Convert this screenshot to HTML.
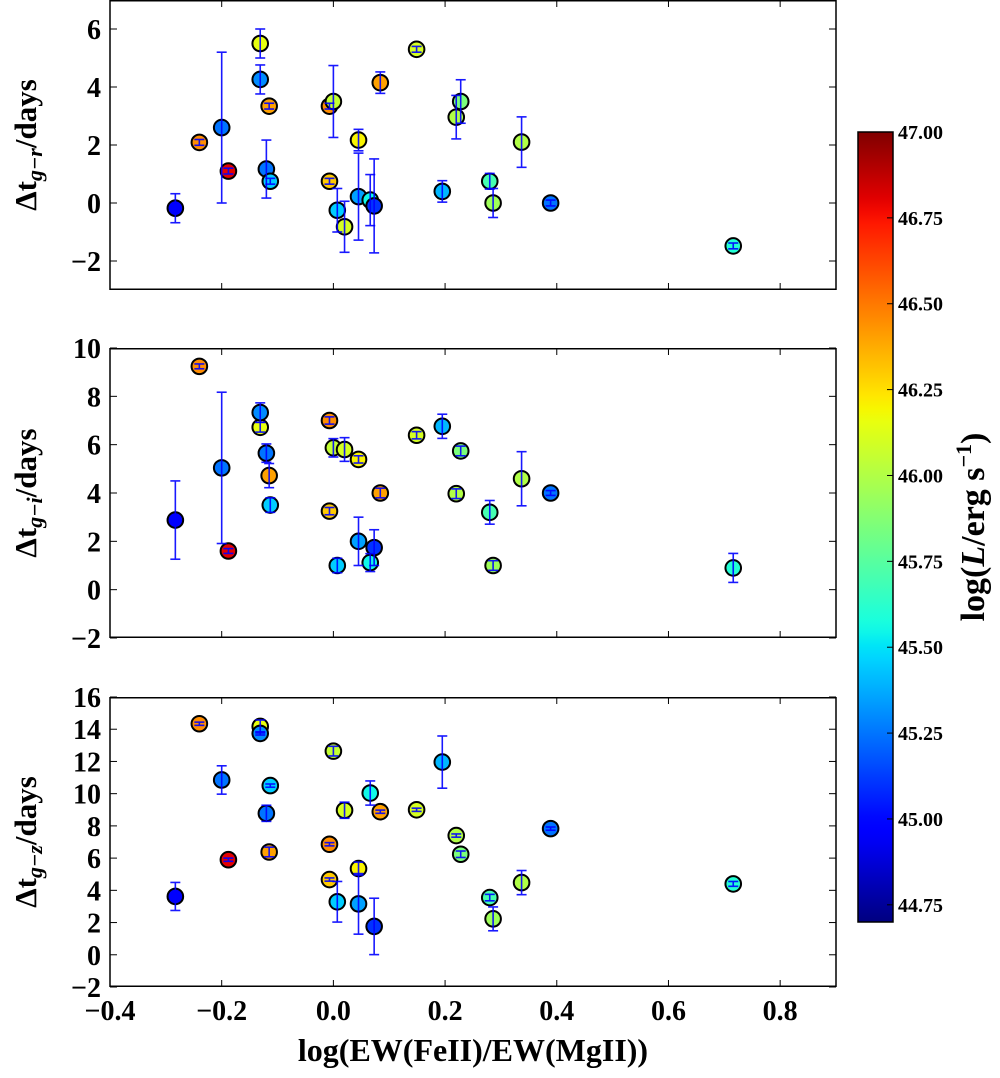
<!DOCTYPE html>
<html><head><meta charset="utf-8"><style>
html,body{margin:0;padding:0;background:#fff;}
svg text{font-family:"Liberation Serif","DejaVu Serif",serif;font-weight:bold;}
</style></head><body>
<svg id="fig" width="1000" height="1073" viewBox="0 0 1000 1073" xmlns="http://www.w3.org/2000/svg">
<defs><linearGradient id="jetgrad" x1="0" y1="1" x2="0" y2="0"></linearGradient></defs>
<g id="panels"></g>
<g id="cbar"></g>
</svg>
<script>
const xVals=[-0.283,-0.24,-0.2,-0.188,-0.131,-0.131,-0.115,-0.12,-0.113,-0.007,0.0,-0.007,0.007,0.02,0.045,0.045,0.066,0.073,0.084,0.149,0.195,0.22,0.228,0.28,0.286,0.337,0.389,0.716];
const lumVals=[44.95,46.45,45.25,46.8,46.15,45.3,46.4,45.25,45.45,46.45,46.05,46.3,45.45,46.1,46.2,45.35,45.55,45.1,46.4,46.1,45.4,46.0,45.85,45.7,45.95,46.0,45.25,45.6];
const grVals=[-0.18,2.09,2.6,1.1,5.5,4.26,3.34,1.17,0.75,3.34,3.5,0.75,-0.25,-0.82,2.17,0.22,0.1,-0.1,4.15,5.3,0.4,2.96,3.5,0.75,0.0,2.1,0.0,-1.48];
const grErr=[0.5,0.1,2.6,0.1,0.5,0.5,0.1,1.0,0.1,0.1,1.24,0.1,0.75,0.88,0.37,1.5,0.88,1.62,0.37,0.1,0.37,0.75,0.75,0.27,0.5,0.87,0.1,0.1];
const giVals=[2.88,9.24,5.04,1.6,6.72,7.33,4.72,5.65,3.5,7.0,5.87,3.25,1.0,5.8,5.39,2.0,1.12,1.74,4.0,6.39,6.76,3.97,5.74,3.2,1.0,4.59,4.0,0.9];
const giErr=[1.62,0.1,3.13,0.1,0.2,0.4,0.5,0.38,0.3,0.15,0.38,0.15,0.3,0.49,0.15,1.0,0.37,0.74,0.2,0.15,0.5,0.2,0.2,0.49,0.2,1.12,0.1,0.6];
const gzVals=[3.62,14.34,10.85,5.9,14.17,13.74,6.38,8.78,10.5,6.86,12.64,4.67,3.29,8.97,5.35,3.16,10.04,1.76,8.88,9.0,11.96,7.4,6.24,3.55,2.23,4.48,7.83,4.4];
const gzErr=[0.87,0.1,0.88,0.1,0.4,0.1,0.3,0.5,0.1,0.1,0.3,0.1,1.26,0.5,0.4,1.88,0.75,1.75,0.1,0.1,1.62,0.1,0.2,0.2,0.74,0.75,0.1,0.15];
const xTicks=[-0.4,-0.2,0.0,0.2,0.4,0.6,0.8];
const xTickLabels=["\u22120.4","\u22120.2","0.0","0.2","0.4","0.6","0.8"];
const yTicks1=[-2,0,2,4,6];
const yTicks2=[-2,0,2,4,6,8,10];
const yTicks3=[-2,0,2,4,6,8,10,12,14,16];
const cbTicks=[44.75,45.0,45.25,45.5,45.75,46.0,46.25,46.5,46.75,47.0];

const NS="http://www.w3.org/2000/svg";
function mk(tag,attrs,parent){const e=document.createElementNS(NS,tag);for(const k in attrs)e.setAttribute(k,attrs[k]);if(parent)parent.appendChild(e);return e;}
function seg(s,t){for(let i=1;i<s.length;i++){if(t<=s[i][0]){const a=s[i-1],b=s[i];return a[1]+(b[1]-a[1])*(t-a[0])/(b[0]-a[0]);}}return s[s.length-1][1];}
const JR=[[0,0],[0.35,0],[0.66,1],[0.89,1],[1,0.5]];
const JG=[[0,0],[0.125,0],[0.375,1],[0.64,1],[0.91,0],[1,0]];
const JB=[[0,0.5],[0.11,1],[0.34,1],[0.65,0],[1,0]];
function jet(t){t=Math.max(0,Math.min(1,t));
 return `rgb(${Math.round(seg(JR,t)*255)},${Math.round(seg(JG,t)*255)},${Math.round(seg(JB,t)*255)})`;}
const cMin=44.7,cMax=47.0;
function cnorm(v){return (v-cMin)/(cMax-cMin);}

const L=110,R=836,xMin=-0.4,xMax=0.9;
function xs(v){return L+(v-xMin)/(xMax-xMin)*(R-L);}
const panels=[
 {top:0,bot:290,ymin:-3,ymax:7,vals:grVals,err:grErr,ticks:yTicks1,sub:"g\u2212r",name:"panel-g-r"},
 {top:348,bot:638,ymin:-2,ymax:10,vals:giVals,err:giErr,ticks:yTicks2,sub:"g\u2212i",name:"panel-g-i"},
 {top:697,bot:987,ymin:-2,ymax:16,vals:gzVals,err:gzErr,ticks:yTicks3,sub:"g\u2212z",name:"panel-g-z"}];
const root=document.getElementById('panels');
panels.forEach((p,pi)=>{
 const g=mk('g',{},root);
 
 
 const ys=v=>p.bot-(v-p.ymin)/(p.ymax-p.ymin)*(p.bot-p.top);
 xTicks.forEach((t,i)=>{const x=xs(t);
  const a=mk('line',{x1:x,x2:x,y1:p.bot,y2:p.bot-7,stroke:'#000','stroke-width':1},g);
  
  
  mk('line',{x1:x,x2:x,y1:p.top,y2:p.top+7,stroke:'#000','stroke-width':1},g);
  if(pi===2){const tx=mk('text',{x:x,y:1020,'text-anchor':'middle','font-size':28},g);tx.textContent=xTickLabels[i];
   
   }
 });
 p.ticks.forEach(t=>{const y=ys(t);
  mk('line',{x1:L,x2:L+7,y1:y,y2:y,stroke:'#000','stroke-width':1},g);
  mk('line',{x1:R,x2:R-7,y1:y,y2:y,stroke:'#000','stroke-width':1},g);
  const tx=mk('text',{x:101,y:y+10,'text-anchor':'end','font-size':28},g);
  tx.textContent=(t<0?"\u2212":"")+Math.abs(t);
  
  
 });
 const clip='clip'+pi;
 const cp=mk('clipPath',{id:clip},g);mk('rect',{x:L,y:p.top,width:R-L,height:p.bot-p.top},cp);
 const dg=mk('g',{'clip-path':`url(#${clip})`},g);
 xVals.forEach((xv,i)=>{
  const c=mk('circle',{cx:xs(xv),cy:ys(p.vals[i]),r:7.8,fill:jet(cnorm(lumVals[i])),stroke:'#000','stroke-width':2},dg);
  
  
 });
 xVals.forEach((xv,i)=>{
  const x=xs(xv),y1=ys(p.vals[i]-p.err[i]),y2=ys(p.vals[i]+p.err[i]);
  const eb=mk('g',{stroke:'#0000ff','stroke-width':1.6,opacity:0.9},dg);
  
  
  mk('line',{x1:x,x2:x,y1:y1,y2:y2},eb);
  mk('line',{x1:x-5,x2:x+5,y1:y1,y2:y1},eb);
  mk('line',{x1:x-5,x2:x+5,y1:y2,y2:y2},eb);
 });
 const fr=mk('rect',{x:L,y:p.top+0.75,width:R-L,height:p.bot-p.top-1.5,fill:'none',stroke:'#000','stroke-width':1.5},g);
 
 
 const cy=(p.top+p.bot)/2;
 const yl=mk('text',{x:0,y:0,'text-anchor':'middle','font-size':31,transform:`translate(36,${cy}) rotate(-90)`},g);
 
 
 const s1=mk('tspan',{},yl);s1.textContent="\u0394t";
 const s2=mk('tspan',{'font-style':'italic','font-size':22,dy:6},yl);s2.textContent=p.sub;
 const s3=mk('tspan',{dy:-6},yl);s3.textContent="/days";
});
const xl=mk('text',{x:473,y:1061,'text-anchor':'middle','font-size':32},root);
xl.textContent="log(EW(FeII)/EW(MgII))";



const grad=document.getElementById('jetgrad');
for(let i=0;i<=60;i++){mk('stop',{offset:(i/60),'stop-color':jet(i/60)},grad);}
const cb=document.getElementById('cbar');
const cbT=132,cbB=922,cbL=858,cbR=893;
const cy2=v=>cbB-(v-cMin)/(cMax-cMin)*(cbB-cbT);
mk('rect',{x:cbL,y:cbT,width:cbR-cbL,height:cbB-cbT,fill:'url(#jetgrad)',stroke:'#000','stroke-width':1.5},cb);
cbTicks.forEach(t=>{const y=cy2(t);
 mk('line',{x1:cbR-6,x2:cbR,y1:y,y2:y,stroke:'#000','stroke-width':1},cb);
 const tx=mk('text',{x:898,y:y+7,'font-size':20},cb);tx.textContent=t.toFixed(2);
 
 
});
const cl=mk('text',{x:0,y:0,'text-anchor':'middle','font-size':34,transform:'translate(984,527) rotate(-90)'},cb);


const c1=mk('tspan',{},cl);c1.textContent="log(";
const c2=mk('tspan',{'font-style':'italic'},cl);c2.textContent="L";
const c3=mk('tspan',{},cl);c3.textContent="/erg s";
const c4=mk('tspan',{'font-size':22,dy:-13},cl);c4.textContent="\u22121";
const c5=mk('tspan',{dy:13},cl);c5.textContent=")";
</script>
</body></html>
